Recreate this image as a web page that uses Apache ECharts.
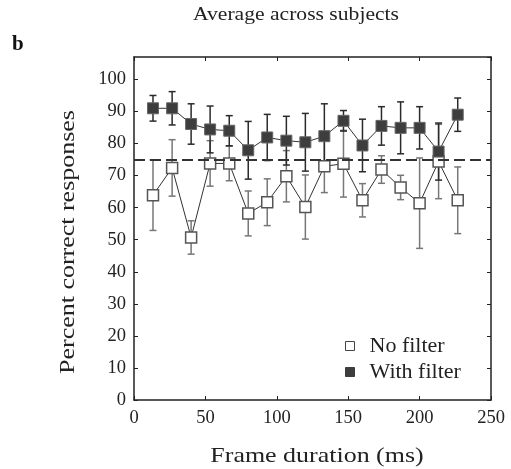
<!DOCTYPE html>
<html>
<head>
<meta charset="utf-8">
<script src="https://cdn.jsdelivr.net/npm/echarts@6/dist/echarts.min.js"></script>
<style>
  html, body { margin: 0; padding: 0; background: #fff; }
  #chart { width: 511px; height: 469px; }
</style>
</head>
<body>
<div id="chart"></div>
<script>
// frame durations (ms)
var frames = [13.3, 26.7, 40, 53.3, 66.7, 80, 93.3, 106.7, 120, 133.3, 146.7, 160, 173.3, 186.7, 200, 213.3, 226.7];

// no filter: mean and error half-width
var noFilter    = [63.9, 72.4, 50.7, 73.8, 73.8, 58.2, 61.7, 69.8, 60.2, 72.9, 73.7, 62.3, 71.9, 66.3, 61.4, 74.4, 62.3];
var noFilterErr = [11.0, 8.8, 5.2, 7.1, 5.4, 7.0, 7.3, 8.0, 10.0, 8.2, 10.4, 5.2, 4.3, 3.8, 14.1, 11.6, 10.4];

// with filter
var withFilter    = [91.0, 91.0, 86.1, 84.4, 84.0, 77.9, 81.9, 80.9, 80.4, 82.3, 87.1, 79.4, 85.5, 84.9, 84.9, 77.5, 89.0];
var withFilterErr = [4.0, 5.2, 6.3, 7.3, 4.7, 9.0, 7.2, 7.6, 9.0, 10.1, 3.2, 8.2, 6.0, 8.1, 6.6, 8.9, 5.2];

var chanceLevel = 75;
var yTicks = [0, 10, 20, 30, 40, 50, 60, 70, 80, 90, 100];

var serif = '"Liberation Serif", "DejaVu Serif", serif';

function pairs(ys) {
  return frames.map(function (f, i) { return [f, ys[i]]; });
}
function bars(ys, errs) {
  return frames.map(function (f, i) { return [f, ys[i] - errs[i], ys[i] + errs[i]]; });
}
function errorRenderer(color) {
  return function (params, api) {
    var x = api.value(0);
    var top = api.coord([x, api.value(2)]);
    var bot = api.coord([x, api.value(1)]);
    var w = 3.5;
    var st = { stroke: color, lineWidth: 1.5 };
    return {
      type: 'group',
      children: [
        { type: 'line', shape: { x1: top[0], y1: top[1], x2: bot[0], y2: bot[1] }, style: st },
        { type: 'line', shape: { x1: top[0] - w, y1: top[1], x2: top[0] + w, y2: top[1] }, style: st },
        { type: 'line', shape: { x1: bot[0] - w, y1: bot[1], x2: bot[0] + w, y2: bot[1] }, style: st }
      ]
    };
  };
}

var myChart = echarts.init(document.getElementById('chart'));

var axisLine = { onZero: false, lineStyle: { color: '#222', width: 1.5 } };
var tick = { inside: true, length: 4, lineStyle: { color: '#222' } };

var option = {
  animation: false,
  backgroundColor: '#fff',
  grid: { left: 134, right: 20, top: 57, bottom: 69 },
  legend: {
    orient: 'vertical',
    left: 345,
    top: 335,
    padding: 0,
    icon: 'rect',
    itemWidth: 9,
    itemHeight: 9,
    itemGap: 4,
    textStyle: { fontFamily: serif, fontSize: 22, color: '#222', padding: [0, 0, 0, 10] },
    data: [
      { name: 'No filter', itemStyle: { color: '#fff', borderColor: '#444', borderWidth: 1 } },
      { name: 'With filter', itemStyle: { color: '#3d3d3d', borderColor: '#3d3d3d', borderWidth: 1 } }
    ]
  },
  xAxis: [
    {
      type: 'value', min: 0, max: 250, interval: 50, position: 'bottom',
      axisLine: axisLine, axisTick: tick,
      axisLabel: { fontFamily: serif, fontSize: 18.5, color: '#222', margin: 9 },
      splitLine: { show: false }
    },
    {
      type: 'value', min: 0, max: 250, interval: 50, position: 'top',
      axisLine: axisLine, axisTick: tick,
      axisLabel: { show: false },
      splitLine: { show: false }
    }
  ],
  yAxis: [
    {
      type: 'value', min: 0, max: 107, interval: 10, position: 'left',
      axisLine: axisLine, axisTick: tick,
      axisLabel: {
        fontFamily: serif, fontSize: 18.5, color: '#222', margin: 8, showMaxLabel: false,
        formatter: function (v) { return yTicks.indexOf(v) >= 0 ? String(v) : ''; }
      },
      splitLine: { show: false }
    },
    {
      type: 'value', min: 0, max: 107, interval: 10, position: 'right',
      axisLine: axisLine, axisTick: tick,
      axisLabel: { show: false },
      splitLine: { show: false }
    }
  ],
  graphic: [
    { type: 'text', left: 12, top: 34, style: { text: 'b', font: 'bold 21px ' + serif, fill: '#111' } },
    { type: 'text', x: 296, y: 15, scaleX: 1.2, style: { text: 'Average across subjects', font: '18px ' + serif, fill: '#222', textAlign: 'center', textVerticalAlign: 'middle' } },
    { type: 'text', x: 68, y: 242, rotation: Math.PI / 2, scaleX: 1.18, style: { text: 'Percent correct responses', font: '22px ' + serif, fill: '#222', textAlign: 'center', textVerticalAlign: 'middle' } },
    { type: 'text', x: 317, y: 456, scaleX: 1.18, style: { text: 'Frame duration (ms)', font: '22px ' + serif, fill: '#222', textAlign: 'center', textVerticalAlign: 'middle' } }
  ],
  series: [
    {
      name: 'noFilterErr', type: 'custom', z: 2,
      renderItem: errorRenderer('#777'),
      data: bars(noFilter, noFilterErr)
    },
    {
      name: 'withFilterErr', type: 'custom', z: 2,
      renderItem: errorRenderer('#2a2a2a'),
      data: bars(withFilter, withFilterErr)
    },
    {
      name: 'No filter', type: 'line', z: 3,
      data: pairs(noFilter),
      symbol: 'rect', symbolSize: 11,
      lineStyle: { color: '#333', width: 1 },
      itemStyle: { color: '#fff', borderColor: '#555', borderWidth: 1.5 },
      markLine: {
        silent: true, symbol: 'none', label: { show: false },
        lineStyle: { color: '#333', width: 2, type: [11, 5] },
        data: [{ yAxis: chanceLevel }]
      }
    },
    {
      name: 'With filter', type: 'line', z: 4,
      data: pairs(withFilter),
      symbol: 'rect', symbolSize: 11,
      lineStyle: { color: '#333', width: 1 },
      itemStyle: { color: '#3d3d3d', borderColor: '#666', borderWidth: 1 }
    }
  ]
};

myChart.setOption(option);
</script>
</body>
</html>
